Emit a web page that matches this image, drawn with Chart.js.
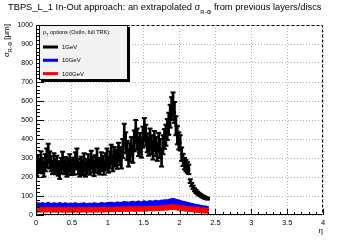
<!DOCTYPE html>
<html>
<head>
<meta charset="utf-8">
<script src="https://cdn.jsdelivr.net/npm/chart.js@4.4.1/dist/chart.umd.min.js"></script>
<style>
  html, body { margin: 0; padding: 0; background: #fff; }
  canvas { display: block; }
</style>
</head>
<body>
<canvas id="chart" width="360" height="240"></canvas>
<script>
// eta bin centres
const etaBins = [
  0.01, 0.03, 0.05, 0.07, 0.09, 0.11, 0.13, 0.15, 0.17, 0.19,
  0.21, 0.23, 0.25, 0.27, 0.29, 0.31, 0.33, 0.35, 0.37, 0.39,
  0.41, 0.43, 0.45, 0.47, 0.49, 0.51, 0.53, 0.55, 0.57, 0.59,
  0.61, 0.63, 0.65, 0.67, 0.69, 0.71, 0.73, 0.75, 0.77, 0.79,
  0.81, 0.83, 0.85, 0.87, 0.89, 0.91, 0.93, 0.95, 0.97, 0.99,
  1.01, 1.03, 1.05, 1.07, 1.09, 1.11, 1.13, 1.15, 1.17, 1.19,
  1.21, 1.23, 1.25, 1.27, 1.29, 1.31, 1.33, 1.35, 1.37, 1.39,
  1.41, 1.43, 1.45, 1.47, 1.49, 1.51, 1.53, 1.55, 1.57, 1.59,
  1.61, 1.63, 1.65, 1.67, 1.69, 1.71, 1.73, 1.75, 1.77, 1.79,
  1.81, 1.83, 1.85, 1.87, 1.89, 1.91, 1.93, 1.95, 1.97, 1.99,
  2.01, 2.03, 2.05, 2.07, 2.09, 2.11, 2.13, 2.15, 2.17, 2.19,
  2.21, 2.23, 2.25, 2.27, 2.29, 2.31, 2.33, 2.35, 2.37, 2.39
];

// 1 GeV
const sigma1GeV = [
  245, 270, 255, 285, 260, 240, 275, 300, 325, 290,
  270, 250, 280, 255, 270, 245, 235, 260, 285, 250,
  265, 240, 255, 275, 250, 260, 250, 285, 300, 255,
  240, 265, 250, 280, 240, 255, 275, 250, 290, 265,
  245, 270, 300, 260, 255, 285, 270, 250, 280, 300,
  265, 290, 320, 270, 310, 300, 285, 330, 310, 290,
  350, 420, 380, 340, 300, 330, 360, 320, 390, 440,
  400, 360, 380, 350, 410, 450, 420, 380, 360, 400,
  370, 340, 390, 360, 330, 380, 350, 300, 370, 400,
  420, 450, 480, 520, 560, 590, 540, 470, 420, 390,
  380, 320, 290, 270, 260, 250, 240, 178, 160, 146,
  133, 124, 116, 110, 105, 100, 96, 92, 89, 86
];
const err1GeV = [
  40, 45, 35, 50, 40, 38, 45, 50, 50, 45,
  40, 35, 45, 40, 42, 38, 45, 40, 48, 35,
  40, 38, 42, 45, 40, 42, 38, 45, 50, 40,
  38, 42, 40, 45, 38, 40, 45, 38, 48, 42,
  40, 45, 50, 40, 42, 45, 40, 38, 45, 50,
  42, 45, 50, 40, 48, 45, 42, 50, 48, 45,
  50, 60, 55, 50, 45, 48, 50, 45, 55, 60,
  55, 50, 52, 48, 55, 60, 55, 50, 48, 55,
  50, 48, 52, 50, 45, 52, 50, 45, 50, 52,
  55, 55, 58, 60, 60, 55, 55, 50, 48, 45,
  40, 35, 32, 30, 30, 28, 25, 10, 9, 9,
  8, 8, 7, 7, 6, 6, 6, 6, 5, 5
];

// 10 GeV
const sigma10GeV = [
  50, 52, 49, 51, 53, 50, 48, 52, 54, 51,
  49, 50, 52, 51, 48, 50, 53, 51, 49, 50,
  52, 50, 48, 51, 50, 49, 51, 52, 50, 48,
  49, 51, 50, 52, 49, 48, 50, 51, 49, 50,
  52, 51, 50, 49, 51, 53, 52, 50, 51, 53,
  54, 52, 55, 53, 51, 54, 56, 55, 53, 54,
  56, 58, 55, 57, 54, 56, 58, 59, 57, 55,
  58, 60, 57, 56, 59, 61, 58, 57, 60, 62,
  60, 59, 61, 63, 62, 60, 62, 64, 63, 65,
  66, 64, 67, 68, 70, 72, 70, 68, 66, 64,
  62, 60, 58, 57, 55, 54, 52, 50, 48, 47,
  45, 44, 42, 41, 40, 38, 37, 36, 35, 34
];
const err10GeV = [
  12, 13, 12, 12, 13, 12, 11, 12, 13, 12,
  12, 12, 13, 12, 11, 12, 13, 12, 12, 12,
  13, 12, 11, 12, 12, 12, 12, 13, 12, 11,
  12, 12, 12, 13, 12, 11, 12, 12, 12, 12,
  13, 12, 12, 12, 12, 13, 13, 12, 12, 13,
  13, 12, 13, 13, 12, 13, 13, 13, 12, 13,
  13, 14, 13, 13, 12, 13, 14, 14, 13, 13,
  14, 14, 13, 13, 14, 14, 14, 13, 14, 14,
  14, 14, 14, 15, 14, 14, 14, 15, 15, 15,
  15, 15, 15, 16, 16, 16, 16, 15, 15, 15,
  15, 14, 14, 14, 14, 13, 13, 13, 13, 13,
  12, 12, 12, 12, 12, 12, 12, 12, 12, 12
];

// 100 GeV
const sigma100GeV = [
  27, 28, 26, 29, 27, 26, 28, 27, 29, 28,
  26, 27, 28, 27, 26, 28, 29, 27, 26, 27,
  28, 27, 26, 28, 27, 26, 27, 28, 27, 26,
  27, 28, 27, 29, 27, 26, 27, 28, 27, 26,
  28, 27, 28, 27, 28, 29, 28, 27, 28, 29,
  29, 28, 30, 29, 28, 30, 31, 30, 29, 30,
  31, 32, 30, 31, 30, 32, 33, 32, 31, 30,
  32, 33, 32, 31, 33, 34, 33, 32, 34, 35,
  34, 33, 34, 35, 36, 35, 36, 37, 36, 38,
  39, 38, 40, 41, 42, 43, 42, 40, 39, 38,
  37, 36, 35, 34, 33, 32, 31, 30, 30, 29,
  28, 27, 27, 26, 25, 25, 24, 23, 23, 22
];
const err100GeV = [
  12, 12, 12, 12, 12, 12, 12, 12, 12, 12,
  12, 12, 12, 12, 12, 12, 12, 12, 12, 12,
  12, 12, 12, 12, 12, 12, 12, 12, 12, 12,
  12, 12, 12, 12, 12, 12, 12, 12, 12, 12,
  12, 12, 12, 12, 12, 12, 12, 12, 12, 12,
  12, 12, 12, 12, 12, 12, 12, 12, 12, 12,
  12, 12, 12, 12, 12, 12, 12, 12, 12, 12,
  12, 12, 12, 12, 12, 12, 12, 12, 12, 12,
  12, 12, 12, 12, 12, 12, 12, 12, 12, 13,
  13, 13, 13, 13, 13, 13, 13, 13, 13, 13,
  13, 13, 13, 13, 13, 13, 13, 13, 13, 13,
  13, 13, 13, 13, 13, 13, 13, 13, 13, 13
];

const xTicks = { min: 0, max: 4, step: 0.5, minor: 0.1 };
const yTicks = { min: 0, max: 1000, step: 100, minor: 20 };
const legendHeader = ['p', 'T', ' options (OutIn, full TRK):'];
const FONT = '"Liberation Sans", Arial, sans-serif';

function errRange(vals, errs) {
  return etaBins.map((x, i) => ({ x: x, y: [vals[i] - errs[i], vals[i] + errs[i]] }));
}
function capPoints(vals, errs) {
  const pts = [];
  etaBins.forEach((x, i) => {
    pts.push({ x: x, y: vals[i] + errs[i] });
    pts.push({ x: x, y: vals[i] - errs[i] });
  });
  return pts;
}

// draws text with one subscript part: [main, sub, rest]
function drawSubText(ctx, x, y, parts, size, subSize, subDrop) {
  ctx.font = size + 'px ' + FONT;
  ctx.fillText(parts[0], x, y);
  x += ctx.measureText(parts[0]).width;
  ctx.font = subSize + 'px ' + FONT;
  ctx.fillText(parts[1], x, y + subDrop);
  x += ctx.measureText(parts[1]).width;
  ctx.font = size + 'px ' + FONT;
  ctx.fillText(parts[2], x, y);
}
function subTextWidth(ctx, parts, size, subSize) {
  ctx.font = size + 'px ' + FONT;
  let w = ctx.measureText(parts[0]).width + ctx.measureText(parts[2]).width;
  ctx.font = subSize + 'px ' + FONT;
  return w + ctx.measureText(parts[1]).width;
}

const rootStyle = {
  id: 'rootStyle',
  afterDraw(chart) {
    const { ctx, chartArea: a, scales: { x, y } } = chart;
    ctx.save();
    ctx.fillStyle = '#000';
    ctx.strokeStyle = '#000';
    ctx.lineWidth = 1;

    // inner ticks
    ctx.beginPath();
    const nx = Math.round((xTicks.max - xTicks.min) / xTicks.minor);
    for (let k = 0; k <= nx; k++) {
      const px = Math.round(x.getPixelForValue(xTicks.min + k * xTicks.minor)) + 0.5;
      const len = k % 5 === 0 ? 6 : 3;
      ctx.moveTo(px, a.bottom);
      ctx.lineTo(px, a.bottom - len);
    }
    const ny = Math.round((yTicks.max - yTicks.min) / yTicks.minor);
    for (let k = 0; k <= ny; k++) {
      const py = Math.round(y.getPixelForValue(yTicks.min + k * yTicks.minor)) + 0.5;
      const len = k % 5 === 0 ? 8 : 4;
      ctx.moveTo(a.left, py);
      ctx.lineTo(a.left + len, py);
    }
    ctx.stroke();

    // frame: solid axes, dashed top/right
    const L = Math.round(a.left) + 0.5, R = Math.round(a.right) - 0.5;
    const T = Math.round(a.top) + 0.5, B = Math.round(a.bottom) - 0.5;
    ctx.beginPath();
    ctx.moveTo(L, T); ctx.lineTo(L, B); ctx.lineTo(R, B);
    ctx.stroke();
    ctx.setLineDash([3, 2]);
    ctx.beginPath();
    ctx.moveTo(L, T); ctx.lineTo(R, T); ctx.lineTo(R, B);
    ctx.stroke();
    ctx.setLineDash([]);

    // legend box
    const bx = a.left + 3, by = a.top, bw = 89, bh = 55;
    ctx.fillRect(bx + 2, by + 2, bw, bh);
    ctx.fillStyle = '#f2f2f2';
    ctx.fillRect(bx, by, bw, bh);
    ctx.strokeRect(bx + 0.5, by + 0.5, bw - 1, bh - 1);
    ctx.fillStyle = '#000';
    ctx.textBaseline = 'alphabetic';
    drawSubText(ctx, bx + 4, by + 9, legendHeader, 5.5, 4, 1.5);
    const entries = chart.data.datasets.filter(d => d.legendEntry).sort((p, q) => p.legendEntry - q.legendEntry);
    entries.forEach((d, i) => {
      const ly = by + 22 + i * 13.3;
      ctx.strokeStyle = d.backgroundColor;
      ctx.lineWidth = 3;
      ctx.beginPath();
      ctx.moveTo(bx + 4, ly);
      ctx.lineTo(bx + 19, ly);
      ctx.stroke();
      ctx.font = '6px ' + FONT;
      ctx.fillText(d.label, bx + 23, ly + 2);
    });

    // title
    drawSubText(ctx, 8, 10, ['TBPS_L_1 In-Out approach: an extrapolated \u03c3', 'R-\u03a6', ' from previous layers/discs'], 9.3, 6, 3.5);

    // y title (rotated, right aligned at top)
    const yParts = ['\u03c3', 'R-\u03a6', ' [\u03bcm]'];
    ctx.save();
    ctx.translate(9, 24);
    ctx.rotate(-Math.PI / 2);
    const w = subTextWidth(ctx, yParts, 8, 5.5);
    drawSubText(ctx, -w, 0, yParts, 8, 5.5, 2.5);
    ctx.restore();

    // x title
    ctx.font = '8px ' + FONT;
    ctx.textAlign = 'right';
    ctx.fillText('\u03b7', 323, 233);
    ctx.restore();
  }
};

const ctx = document.getElementById('chart').getContext('2d');
new Chart(ctx, {
  type: 'bar',
  data: {
    datasets: [
      {
        label: '1GeV', legendEntry: 1, order: 3,
        data: errRange(sigma1GeV, err1GeV),
        backgroundColor: '#000000', barThickness: 2, grouped: false
      },
      {
        type: 'scatter', label: 'caps', order: 2,
        data: capPoints(sigma1GeV, err1GeV),
        pointStyle: 'line', pointRadius: 2.5, borderWidth: 2,
        borderColor: '#000000', backgroundColor: '#000000'
      },
      {
        type: 'scatter', label: 'markers', order: 1,
        data: etaBins.map((x, i) => ({ x: x, y: sigma1GeV[i] })),
        pointStyle: 'rect', pointRadius: 2, borderWidth: 0,
        backgroundColor: '#000000'
      },
      {
        label: '10GeV', legendEntry: 2, order: 5,
        data: errRange(sigma10GeV, err10GeV),
        backgroundColor: '#0000ff', barThickness: 2, grouped: false
      },
      {
        label: '100GeV', legendEntry: 3, order: 4,
        data: errRange(sigma100GeV, err100GeV),
        backgroundColor: '#ff0000', barThickness: 2, grouped: false
      }
    ]
  },
  options: {
    responsive: false,
    animation: false,
    devicePixelRatio: 1,
    layout: { padding: { top: 25, right: 37, left: 0, bottom: 0 } },
    plugins: { legend: { display: false }, tooltip: { enabled: false } },
    scales: {
      x: {
        type: 'linear', min: xTicks.min, max: xTicks.max, offset: false,
        afterFit: s => { s.height = 25; },
        grid: { offset: false, color: '#b4b4b4', drawTicks: false },
        border: { display: false, dash: [1, 2] },
        ticks: {
          stepSize: xTicks.step, padding: 3, color: '#000', maxRotation: 0,
          font: { family: FONT, size: 7.5 },
          callback: v => String(v)
        }
      },
      y: {
        min: yTicks.min, max: yTicks.max,
        afterFit: s => { s.width = 36; },
        grid: { color: '#b4b4b4', drawTicks: false },
        border: { display: false, dash: [1, 2] },
        ticks: {
          stepSize: yTicks.step, padding: 3, color: '#000',
          font: { family: FONT, size: 7 },
          callback: v => String(v)
        }
      }
    }
  },
  plugins: [rootStyle]
});
</script>
</body>
</html>
